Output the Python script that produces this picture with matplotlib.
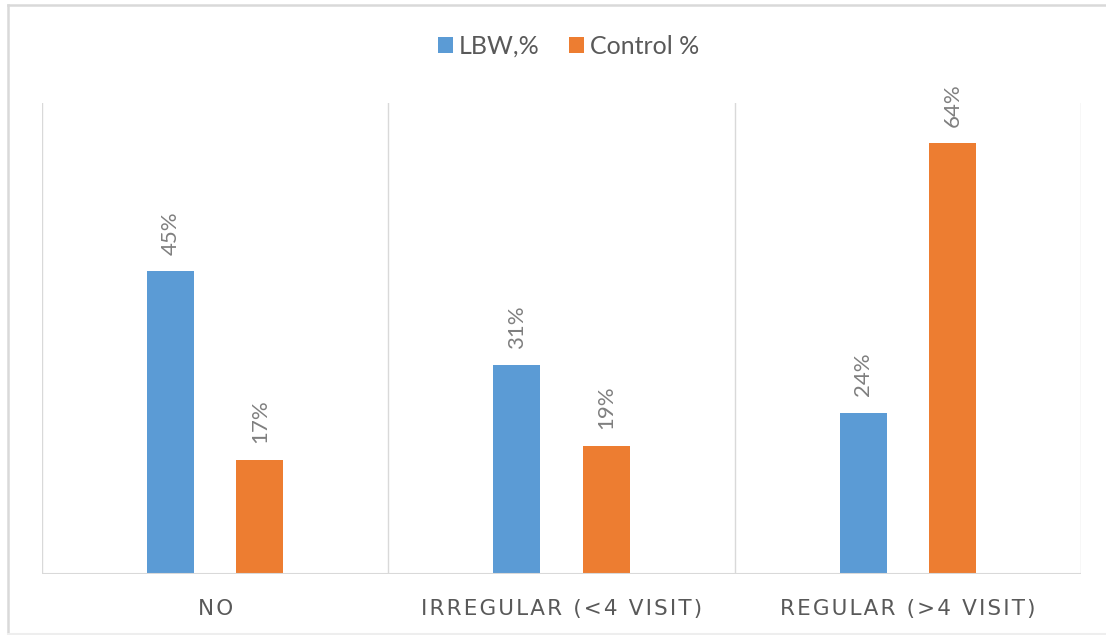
import matplotlib
matplotlib.use("Agg")
import matplotlib.pyplot as plt
from matplotlib.lines import Line2D
from matplotlib.patches import Patch
import numpy as np

categories = ["NO", "IRREGULAR (<4 VISIT)", "REGULAR (>4 VISIT)"]
series_names = ["LBW,%", "Control %"]
lbw_pct = [45, 31, 24]
control_pct = [17, 19, 64]

BLUE = "#5B9BD5"
ORANGE = "#ED7D31"
GRID = "#D9D9D9"
LABEL = "#595959"
DATA_LABEL = "#7F7F7F"

W, H = 1106, 635
fig = plt.figure(figsize=(W / 100, H / 100), dpi=100)
ax = fig.add_axes([42 / W, (H - 574) / H, 1039 / W, 471 / H])

x = np.arange(len(categories))
bw = 0.136
off = 0.129
bars_a = ax.bar(x - off, lbw_pct, bw, color=BLUE, zorder=3)
bars_b = ax.bar(x + off, control_pct, bw, color=ORANGE, zorder=3)

for bars, vals in ((bars_a, lbw_pct), (bars_b, control_pct)):
    for b, v in zip(bars, vals):
        ax.annotate(f"{v}%", (b.get_x() + b.get_width() / 2, b.get_height()),
                    xytext=(0, 12), textcoords="offset points",
                    rotation=90, ha="center", va="bottom",
                    fontsize=16, color=DATA_LABEL, family=["Lato", "DejaVu Sans"])

ax.set_xlim(-0.5, len(categories) - 0.5)
ax.set_ylim(0, 70)
for sep in np.arange(-0.5, len(categories), 1.0):
    ax.axvline(sep, color=GRID, lw=1.0, zorder=1)
for s in ax.spines.values():
    s.set_visible(False)
ax.axhline(0, color=GRID, lw=1.5, zorder=4)
ax.set_yticks([])
ax.set_xticks(x)
hair = "\u200a"
spaced = [hair.join(c) for c in categories]
ax.set_xticklabels(spaced, family=["Liberation Sans Narrow", "DejaVu Sans"],
                   fontsize=15.5, color=LABEL)
ax.tick_params(axis="x", length=0, pad=18)

handles = [Patch(facecolor=BLUE), Patch(facecolor=ORANGE)]
leg = fig.legend(handles, series_names, loc="center", bbox_to_anchor=(0.514, 1 - 46 / H),
                 ncol=2, frameon=False, handlelength=0.6, handleheight=0.6,
                 handletextpad=0.25, columnspacing=1.15,
                 prop={"family": ["Lato", "DejaVu Sans"], "size": 18})
for t in leg.get_texts():
    t.set_color(LABEL)

# outer frame
fig.add_artist(Line2D([8 / W, 8 / W], [1 - 5 / H, 1 - 634 / H], transform=fig.transFigure,
                      color=GRID, lw=1.8))
fig.add_artist(Line2D([8 / W, 1], [1 - 5 / H, 1 - 5 / H], transform=fig.transFigure,
                      color=GRID, lw=1.8))
fig.add_artist(Line2D([8 / W, 1], [1 - 634 / H, 1 - 634 / H], transform=fig.transFigure,
                      color="#EEEEEE", lw=1.5))

fig.savefig("out.png", dpi=100)
